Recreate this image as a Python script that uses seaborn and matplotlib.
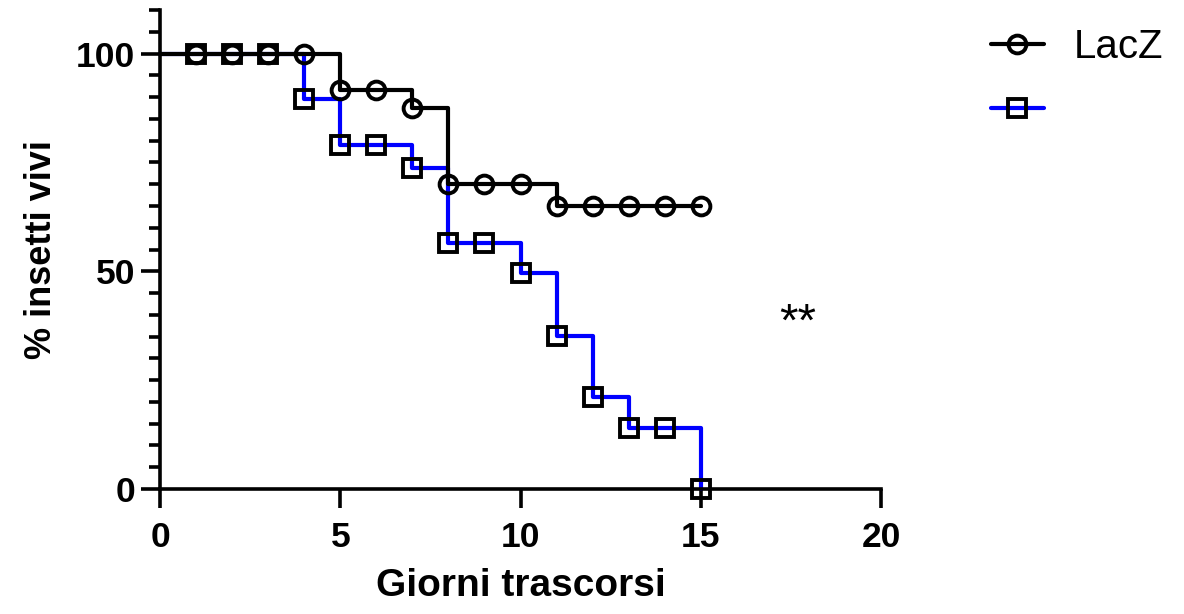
import matplotlib
matplotlib.use("Agg")
import matplotlib.pyplot as plt
from matplotlib.lines import Line2D
from matplotlib.ticker import MultipleLocator
import seaborn as sns
import pandas as pd

days = [0, 1, 2, 3, 4, 5, 6, 7, 8, 9, 10, 11, 12, 13, 14, 15]
lacz = [100, 100, 100, 100, 100, 91.7, 91.7, 87.5, 70, 70, 70, 65, 65, 65, 65, 65]
second = [100, 100, 100, 100, 89.5, 78.9, 78.9, 73.7, 56.5, 56.5, 49.5, 35.2, 21.1, 14.1, 14.1, 0]
labels = ["LacZ", ""]
x_ticks = [0, 5, 10, 15, 20]
y_ticks = [0, 50, 100]

sns.set_style("ticks", {"text.color": "black", "axes.labelcolor": "black",
                        "xtick.color": "black", "ytick.color": "black",
                        "axes.edgecolor": "black"})
plt.rcParams['font.family'] = ['Liberation Sans', 'DejaVu Sans']

fig = plt.figure(figsize=(11.84, 6.14), dpi=100)
ax = fig.add_axes([160/1184, 125/614, (881-160)/1184, (489-10)/614])

df = pd.DataFrame({"day": days, "LacZ": lacz, "other": second})

lw = 3.0
ms = 12.8
mew = 2.8

sns.lineplot(data=df, x="day", y="other", ax=ax, color="#0000ff", lw=lw,
             drawstyle="steps-post", clip_on=False, zorder=2)
sns.lineplot(data=df, x="day", y="LacZ", ax=ax, color="black", lw=lw,
             drawstyle="steps-post", clip_on=False, zorder=3)
dm = df.iloc[1:]
ax.plot(dm["day"], dm["other"], ls="none", marker="s", ms=ms, mfc="none",
        mec="black", mew=mew, clip_on=False, zorder=4)
ax.plot(dm["day"], dm["LacZ"], ls="none", marker="o", ms=ms, mfc="none",
        mec="black", mew=mew, clip_on=False, zorder=5)

ax.set_xlim(0, 20)
ax.set_ylim(0, 110)
ax.set_xticks(x_ticks)
ax.set_yticks(y_ticks)
ax.yaxis.set_minor_locator(MultipleLocator(5))
ax.tick_params(axis="both", which="major", length=14, width=2.6, labelsize=25.5,
               colors="black")
ax.tick_params(axis="x", which="major", pad=9)
ax.tick_params(axis="y", which="major", pad=4)
ax.tick_params(axis="y", which="minor", length=8, width=2.6, colors="black")
for t in ax.get_xticklabels() + ax.get_yticklabels():
    t.set_fontweight("bold")
for s in ["left", "bottom"]:
    ax.spines[s].set_linewidth(2.6)
sns.despine(ax=ax)

ax.set_xlabel("Giorni trascorsi", fontsize=28, fontweight="bold", labelpad=10)
ax.set_ylabel("% insetti vivi", fontsize=26, fontweight="bold", labelpad=12)

ax.text(17.7, 38, "**", fontsize=34, ha="center", va="center", color="black")

handles = [
    Line2D([], [], color="black", lw=lw, marker="o", ms=ms, mfc="none", mec="black", mew=mew),
    Line2D([], [], color="#0000ff", lw=lw, marker="s", ms=ms, mfc="none", mec="black", mew=mew),
]
fig.legend(handles, labels, loc="upper left", bbox_to_anchor=(955/1184, 1 + 8/614),
           frameon=False, fontsize=29, handlelength=1.3, labelspacing=0.65,
           handletextpad=0.75, borderpad=0.4)

fig.savefig("out.png", dpi=100)
